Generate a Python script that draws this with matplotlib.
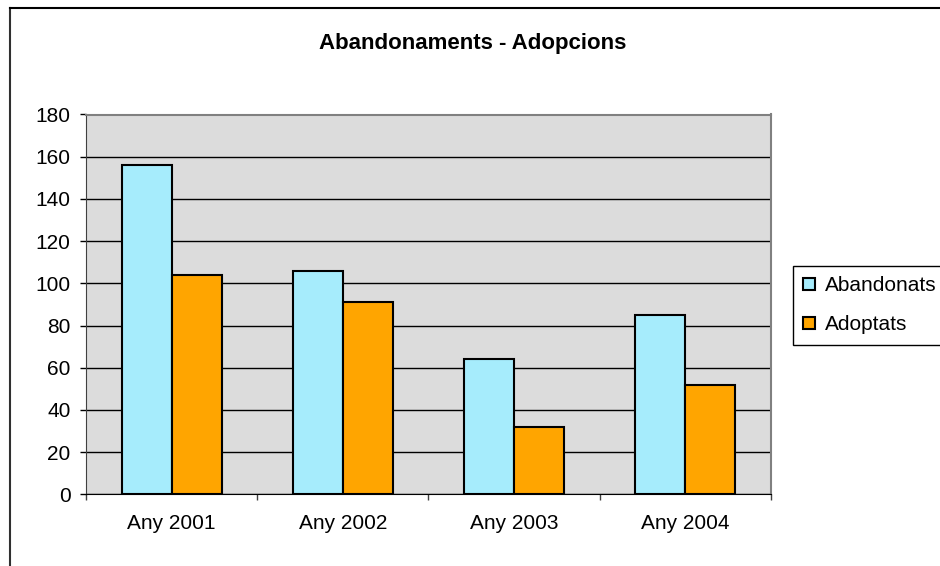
import numpy as np
import matplotlib.pyplot as plt
from matplotlib.lines import Line2D

plt.rcParams['font.family'] = ['Liberation Sans', 'DejaVu Sans']

# Dades
anys = ['Any 2001', 'Any 2002', 'Any 2003', 'Any 2004']
abandonats = [156, 106, 64, 85]
adoptats = [104, 91, 32, 52]
series = ['Abandonats', 'Adoptats']

W, H = 940, 566
fig = plt.figure(figsize=(W / 100, H / 100), dpi=100)
ax = fig.add_axes([86 / W, 1 - 494.3 / H, 685 / W, 379.8 / H])

x = np.arange(len(anys))
w = 0.292
ax.bar(x - w / 2, abandonats, w, color='#A6ECFC', edgecolor='black', linewidth=1.5,
       label=series[0], zorder=3)
ax.bar(x + w / 2, adoptats, w, color='#FFA500', edgecolor='black', linewidth=1.5,
       label=series[1], zorder=3)

ax.set_facecolor('#DCDCDC')
ax.set_xlim(-0.5, len(anys) - 0.5)
ax.set_ylim(0, 180)
ax.set_yticks(np.arange(0, 181, 20))
ax.yaxis.grid(True, color='black', linewidth=1.0, zorder=1)
ax.set_axisbelow(True)

ax.set_xticks(x)
ax.set_xticklabels(anys)
ax.set_xticks(np.arange(-0.5, len(anys), 1), minor=True)
ax.tick_params(axis='x', which='major', length=0, pad=14, labelsize=15)
ax.tick_params(axis='x', which='minor', length=4, width=1, color='#404040', direction='out')
ax.tick_params(axis='y', length=4, width=1, pad=7, labelsize=15, direction='out')

for s in ['top', 'right']:
    ax.spines[s].set_color('#808080')
    ax.spines[s].set_linewidth(1.5)
ax.spines['left'].set_color('#404040')
ax.spines['bottom'].set_color('black')

fig.text(473 / W, 1 - 43 / H, 'Abandonaments - Adopcions', ha='center', va='center',
         fontsize=16, fontweight='bold')

leg = fig.legend(loc='upper left', bbox_to_anchor=(793 / W, 1 - 266 / H), fontsize=15,
                 frameon=True, fancybox=False, edgecolor='black', framealpha=1,
                 handlelength=0.55, handleheight=0.55, handletextpad=0.5,
                 labelspacing=0.95, borderpad=0.5, borderaxespad=0)
leg.get_frame().set_linewidth(1.0)

# vora de l'àrea del gràfic
fig.add_artist(Line2D([10 / W, 10 / W], [0, 1 - 8 / H], transform=fig.transFigure,
                      color='#303030', linewidth=1.5))
fig.add_artist(Line2D([10 / W, 1], [1 - 8 / H, 1 - 8 / H], transform=fig.transFigure,
                      color='black', linewidth=1.5))

fig.savefig('out.png', dpi=100)
